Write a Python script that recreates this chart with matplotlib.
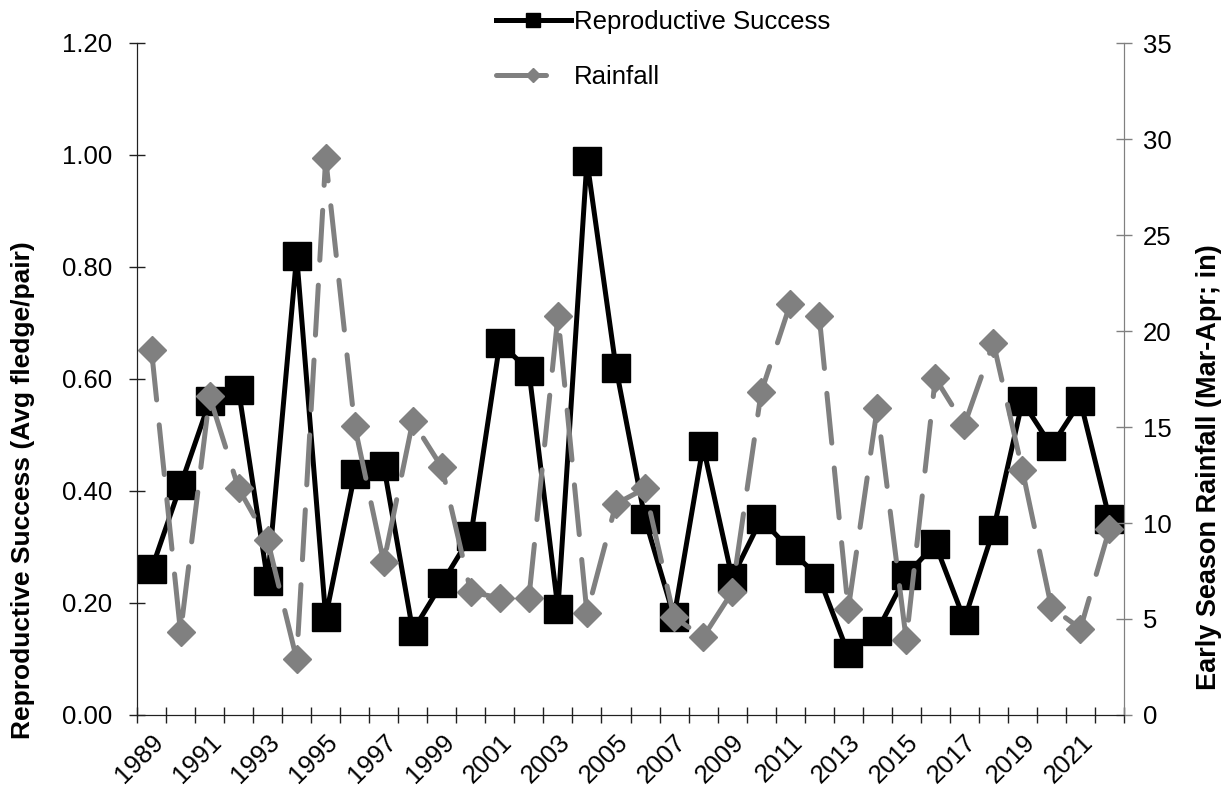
import matplotlib.pyplot as plt
from matplotlib.ticker import MultipleLocator, FixedLocator
from matplotlib.transforms import ScaledTranslation

plt.rcParams['font.family'] = ['Liberation Sans', 'DejaVu Sans']

years = list(range(1989, 2023))
success = [0.26, 0.41, 0.56, 0.58, 0.24, 0.82, 0.175, 0.43, 0.445, 0.15,
           0.235, 0.32, 0.665, 0.615, 0.19, 0.99, 0.62, 0.35, 0.175, 0.48,
           0.245, 0.35, 0.295, 0.245, 0.11, 0.15, 0.25, 0.305, 0.17, 0.33,
           0.56, 0.48, 0.56, 0.35]
rainfall = [19.0, 4.3, 16.6, 11.8, 9.1, 2.9, 29.0, 15.05, 7.95, 15.3,
            12.9, 6.4, 6.1, 6.1, 20.8, 5.3, 11.0, 11.8, 5.1, 4.05,
            6.4, 16.8, 21.4, 20.8, 5.5, 16.0, 3.9, 17.55, 15.1, 19.4,
            12.75, 5.6, 4.5, 9.7]
year_labels = [str(y) for y in years[::2]]

x = list(range(len(years)))
fs = 18.5

fig = plt.figure(figsize=(12.3, 7.88), dpi=100)
ax = fig.add_axes([137 / 1230, 73 / 788, 987 / 1230, 672 / 788])
ax2 = ax.twinx()

l1, = ax.plot(x, success, color='black', lw=3.6, marker='s', ms=19.5,
              solid_joinstyle='round', label='Reproductive Success', zorder=3)
l2, = ax2.plot(x, rainfall, color='#808080', lw=3.6, marker='D', ms=14,
               dashes=(10, 5), dash_capstyle='round', label='Rainfall', zorder=3)

ax.set_xlim(-0.5, len(years) - 0.5)
ax.set_ylim(0, 1.2)
ax2.set_ylim(0, 35)
ax.yaxis.set_major_locator(MultipleLocator(0.2))
ax.yaxis.set_major_formatter('{x:.2f}')
ax2.yaxis.set_major_locator(MultipleLocator(5))

ax.set_xticks(x[::2])
ax.set_xticklabels(year_labels, rotation=45, ha='right', va='top',
                   rotation_mode='anchor')
shift = ScaledTranslation(0.05, 0, fig.dpi_scale_trans)
for lab in ax.get_xticklabels():
    lab.set_transform(lab.get_transform() + shift)
ax.xaxis.set_minor_locator(FixedLocator([i - 0.5 for i in range(len(years) + 1)]))
ax.tick_params(axis='x', which='major', length=0, pad=11, labelsize=fs)
ax.tick_params(axis='x', which='minor', direction='inout', length=11.5,
               width=1, color='#202020')
ax.tick_params(axis='y', direction='inout', length=11.5, width=1,
               color='#202020', labelsize=fs, pad=12)
ax2.tick_params(axis='y', direction='inout', length=11.5, width=1,
                color='#808080', labelsize=fs, pad=8)

for a in (ax, ax2):
    a.spines['top'].set_visible(False)
    a.spines['left'].set_color('#202020')
    a.spines['bottom'].set_color('#202020')
    a.spines['right'].set_color('#808080')

ax.set_ylabel('Reproductive Success (Avg fledge/pair)', fontsize=19,
              fontweight='bold')
ax.yaxis.set_label_coords(-102 / 987, 0.335)
ax2.set_ylabel('Early Season Rainfall (Mar-Apr; in)', fontsize=19.5,
               fontweight='bold', rotation=90)
ax2.yaxis.set_label_coords(1 + 72 / 987, 0.369)

fig.legend(handles=[l1, l2], loc='upper left',
           bbox_to_anchor=(496 / 1230, 1 - 10 / 788),
           frameon=False, fontsize=fs, markerscale=0.5, handlelength=2.9,
           labelspacing=1.2, handletextpad=0.15, borderpad=0,
           borderaxespad=0)

fig.savefig('out.png', dpi=100)
